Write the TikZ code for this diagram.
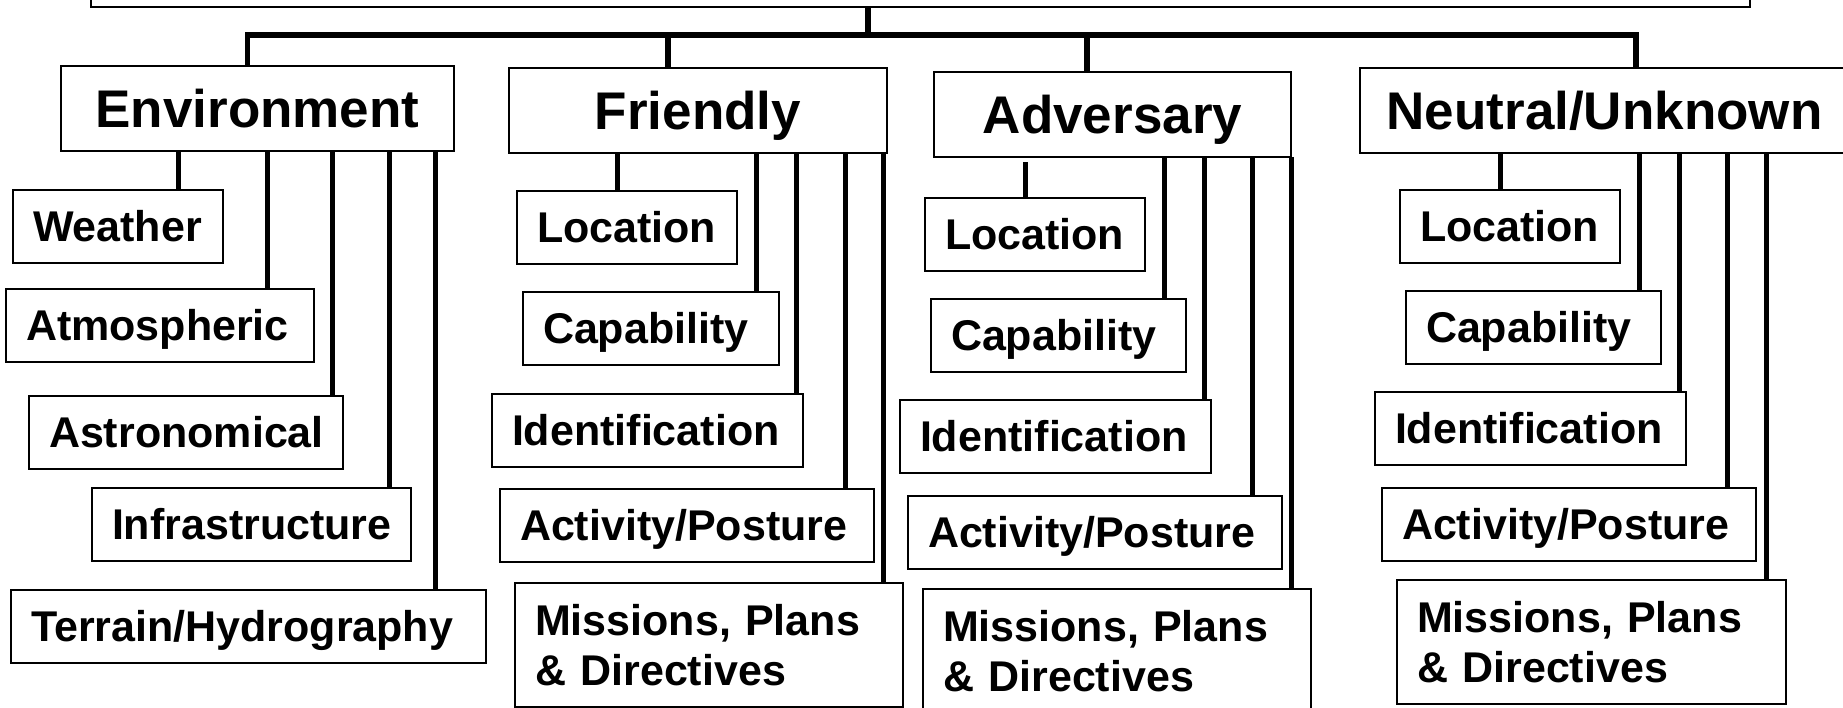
\documentclass[tikz,border=0pt]{standalone}
\usepackage{fontspec}
\newfontfamily\hv{Liberation Sans}
\hyphenpenalty=10000
\exhyphenpenalty=10000
\tikzset{
  boxst/.style={draw=black, line width=1.6pt, fill=white, outer sep=0pt, inner ysep=0pt, anchor=north west},
  headst/.style={boxst, minimum height=85pt, inner xsep=0pt, text height=37.9pt, text depth=0pt,
    font=\hv\bfseries\fontsize{53}{60}\selectfont},
  kid/.style={boxst, inner xsep=20pt, align=left, minimum height=73pt, text height=30.8pt, text depth=0pt,
    font=\hv\bfseries\fontsize{43}{50}\selectfont},
  kidm/.style={boxst, inner xsep=20pt, align=left, minimum height=124pt,
    font=\hv\bfseries\fontsize{43}{50}\selectfont},
  connst/.style={line width=5pt},
  barst/.style={line width=5.5pt},
}
\newcommand\kidline[3]{\draw[connst] ([xshift=#2pt]#1.south west) -- ([xshift=#2pt]#1.south west |- #3.north);}
\begin{document}
\begin{tikzpicture}[x=1pt,y=-1pt]
\useasboundingbox (0,0) rectangle (1843,707);
% top box (cut off)
\node[draw=black, line width=1.6pt, outer sep=0pt, minimum width=1659pt, minimum height=80pt, anchor=south west] (top) at (91,7) {};
% headings
\node[headst, minimum width=393pt] (env) at (61,66) {Environment};
\node[headst, minimum width=378pt] (fri) at (509,68) {Friendly};
\node[headst, minimum width=357pt] (adv) at (934,72) {Adversary};
\node[headst, minimum width=489pt] (neu) at (1360,68) {Neutral/Unknown};
% environment children
\node[kid, text width=170pt] (wea) at (13,190) {\mbox{Weather}};
\node[kid, text width=268pt] (atm) at (6,289) {\mbox{Atmospheric}};
\node[kid, text width=274pt] (ast) at (29,396) {\mbox{Astronomical}};
\node[kid, text width=279pt] (inf) at (92,488) {\mbox{Infrastructure}};
\node[kid, text width=435pt] (ter) at (11,590) {\mbox{Terrain/Hydrography}};
% friendly children
\node[kid, text width=180pt] (floc) at (517,191) {\mbox{Location}};
\node[kid, text width=216pt] (fcap) at (523,292) {\mbox{Capability}};
\node[kid, text width=271pt] (fid) at (492,394) {\mbox{Identification}};
\node[kid, text width=334pt] (fact) at (500,489) {\mbox{Activity/Posture}};
\node[kidm, text width=348pt] (fmis) at (515,583) {\mbox{Missions, Plans}\\\mbox{\& Directives}};
% adversary children
\node[kid, text width=180pt] (aloc) at (925,198) {\mbox{Location}};
\node[kid, text width=215pt] (acap) at (931,299) {\mbox{Capability}};
\node[kid, text width=271pt] (aid) at (900,400) {\mbox{Identification}};
\node[kid, text width=334pt] (aact) at (908,496) {\mbox{Activity/Posture}};
\node[kidm, text width=348pt] (amis) at (923,589) {\mbox{Missions, Plans}\\\mbox{\& Directives}};
% neutral children
\node[kid, text width=180pt] (nloc) at (1400,190) {\mbox{Location}};
\node[kid, text width=215pt] (ncap) at (1406,291) {\mbox{Capability}};
\node[kid, text width=271pt] (nid) at (1375,392) {\mbox{Identification}};
\node[kid, text width=334pt] (nact) at (1382,488) {\mbox{Activity/Posture}};
\node[kidm, text width=349pt] (nmis) at (1397,580) {\mbox{Missions, Plans}\\\mbox{\& Directives}};
% tree bar
\coordinate (hub) at (868,35);
\draw[barst] ([xshift=777pt]top.south west) -- (hub);
\draw[barst] ([xshift=186.5pt]env.north west) |- (hub) -| ([xshift=276pt]neu.north west);
\draw[barst] ([xshift=159pt]fri.north west) -- ([xshift=159pt]fri.north west |- hub);
\draw[barst] ([xshift=153pt]adv.north west) -- ([xshift=153pt]adv.north west |- hub);
% connectors
\kidline{env}{117}{wea}
\kidline{env}{206}{atm}
\kidline{env}{271.5}{ast}
\kidline{env}{328}{inf}
\kidline{env}{374}{ter}
\kidline{fri}{108}{floc}
\kidline{fri}{247}{fcap}
\kidline{fri}{287}{fid}
\kidline{fri}{336}{fact}
\kidline{fri}{374}{fmis}
\draw[connst, shorten <=5pt] ([xshift=91pt]adv.south west) -- ([xshift=91pt]adv.south west |- aloc.north);
\kidline{adv}{230}{acap}
\kidline{adv}{270}{aid}
\kidline{adv}{318}{aact}
\kidline{adv}{357}{amis}
\kidline{neu}{140}{nloc}
\kidline{neu}{279}{ncap}
\kidline{neu}{319}{nid}
\kidline{neu}{367}{nact}
\kidline{neu}{406}{nmis}
\end{tikzpicture}
\end{document}
